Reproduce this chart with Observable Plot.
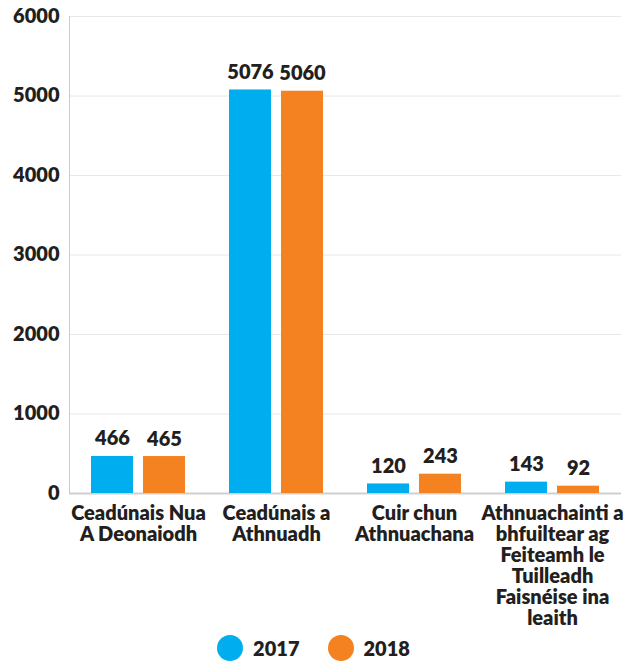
<!DOCTYPE html>
<html>
<head>
<meta charset="utf-8">
<script src="https://cdn.jsdelivr.net/npm/d3@7"></script>
<script src="https://cdn.jsdelivr.net/npm/@observablehq/plot@0.6"></script>
<style>
  html, body { margin: 0; padding: 0; background: #fff; }
  body { width: 627px; font-family: Lato, "Open Sans", sans-serif; }
  #legend { display: flex; justify-content: center; align-items: center; height: 32px; font-family: Lato, sans-serif; font-weight: 800; font-size: 20px; color: #231f20; }
  .item { display: flex; align-items: center; margin: 0 14px; }
  .dot { width: 26px; height: 26px; border-radius: 50%; margin-right: 10px; }
</style>
</head>
<body>
<div id="chart"></div>
<div id="legend"></div>
<script>
const categories = [
  "Ceadúnais Nua\nA Deonaiodh",
  "Ceadúnais a\nAthnuadh",
  "Cuir chun\nAthnuachana",
  "Athnuachainti a\nbhfuiltear ag\nFeiteamh le\nTuilleadh\nFaisnéise ina\nleaith"
];
const years = ["2017", "2018"];
const values2017 = [466, 5076, 120, 143];
const values2018 = [465, 5060, 243, 92];
const yTicks = [0, 1000, 2000, 3000, 4000, 5000, 6000];
const colors = ["#00AEEF", "#F58220"];

const data = categories.flatMap((c, i) => [
  {category: c, year: years[0], value: values2017[i]},
  {category: c, year: years[1], value: values2018[i]}
]);

const ink = "#231f20";
const chart = Plot.plot({
  width: 627,
  height: 632,
  marginLeft: 68,
  marginRight: 6,
  marginTop: 16,
  marginBottom: 139,
  style: {fontFamily: "Lato, sans-serif", background: "#fff"},
  fx: {domain: categories, padding: 0, label: null, axis: null},
  x: {domain: years, paddingInner: 0.1887, paddingOuter: 0.399, axis: null},
  y: {domain: [0, 6000], axis: null},
  color: {domain: years, range: colors},
  marks: [
    Plot.gridY(yTicks, {stroke: "#e8e8e8", strokeOpacity: 1}),
    Plot.ruleY([0], {stroke: "#cfcfcf", strokeWidth: 2}),
    Plot.barY(data, {fx: "category", x: "year", y: "value", fill: "year"}),
    Plot.text(data, {fx: "category", x: "year", y: "value", text: d => String(d.value), dy: -11, lineAnchor: "bottom", fontSize: 20, fontWeight: 800, fill: ink}),
    Plot.axisY(yTicks, {tickSize: 0, tickPadding: 10, fontSize: 20, fontWeight: 800, label: null, tickFormat: d => String(d), color: ink}),
    Plot.axisFx({anchor: "bottom", tickSize: 0, tickPadding: 12, lineAnchor: "top", fontSize: 20, fontWeight: 800, lineHeight: 1.05, label: null, color: ink}),
    Plot.frame({anchor: "left", facetAnchor: "left", stroke: "#cccccc"})
  ]
});
document.getElementById("chart").appendChild(chart);

const legend = document.getElementById("legend");
years.forEach((y, i) => {
  const item = document.createElement("div");
  item.className = "item";
  const dot = document.createElement("span");
  dot.className = "dot";
  dot.style.background = colors[i];
  const label = document.createElement("span");
  label.textContent = y;
  item.appendChild(dot);
  item.appendChild(label);
  legend.appendChild(item);
});
</script>
</body>
</html>
